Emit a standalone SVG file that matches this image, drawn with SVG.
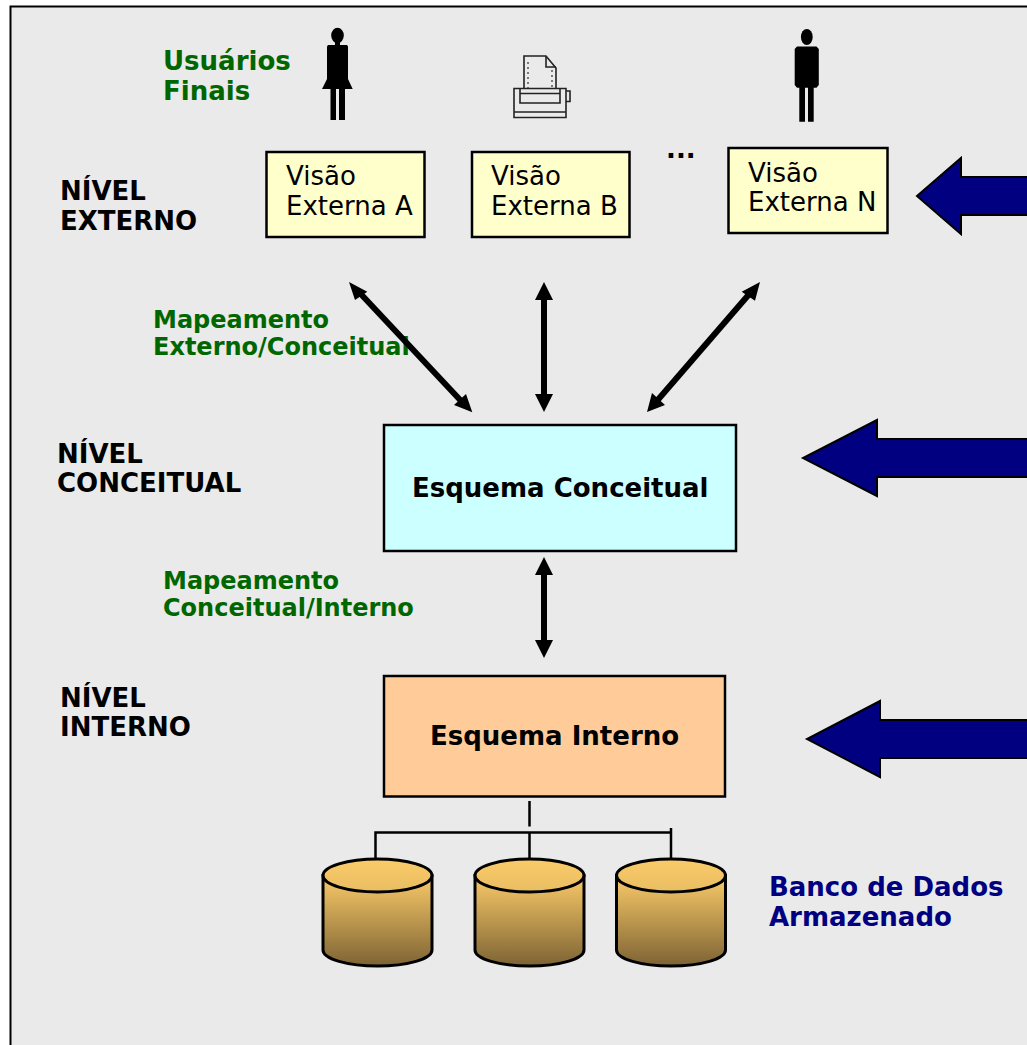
<svg xmlns="http://www.w3.org/2000/svg" width="1027" height="1045" viewBox="0 0 1027 1045">
<style>
text{font-family:"DejaVu Sans",sans-serif}
.b{font-weight:bold;fill:#000;font-size:26px}
.g{font-weight:bold;fill:#006600;font-size:24px}
.g2{font-weight:bold;fill:#006600;font-size:26px}
.n{font-weight:bold;fill:#000080;font-size:26px}
.v{fill:#000;font-size:26px}
.t{font-weight:bold;fill:#000;font-size:26px}
.box{stroke:#000;stroke-width:2.500}
.vb{fill:#ffffcc}
.lk{stroke:#000;stroke-width:6;fill:none}
.fl{fill:#000080;stroke:#000;stroke-width:2}
.cyl{fill:url(#cg);stroke:#000;stroke-width:3}
.top{fill:url(#ct);stroke:#000;stroke-width:3}
.w{stroke:#000;stroke-width:2.500;fill:none}
.pr{stroke:#222;stroke-width:1.600;fill:none}
.dot{stroke:#555;stroke-width:1.500;stroke-dasharray:2 3;fill:none}
</style>
<defs>
<linearGradient id="cg" x1="0" y1="0" x2="0" y2="1"><stop offset="0" stop-color="#fbcb69"/><stop offset="1" stop-color="#7d6334"/></linearGradient>
<linearGradient id="ct" x1="0" y1="0" x2="0" y2="1"><stop offset="0" stop-color="#fbcb69"/><stop offset="1" stop-color="#e8bd62"/></linearGradient>
<g id="cy">
<path class="cyl" d="M-54.500 16.500V91C-54.500 100 -30 107 0 107S54.500 100 54.500 91V16.500Z"/>
<ellipse class="top" cx="0" cy="16.500" rx="54.500" ry="16.500"/>
</g>
</defs>
<rect id="frame" x="10.500" y="6.500" width="1030" height="1050" fill="#eaeaea" stroke="#000" stroke-width="2"/>

<g id="labels">
<text class="g2" x="163" y="70">Usuários</text><text class="g2" x="163" y="100">Finais</text>
<text class="b" x="60" y="200">NÍVEL</text><text class="b" x="60" y="230">EXTERNO</text>
<text class="b" x="57" y="463">NÍVEL</text><text class="b" x="57" y="492">CONCEITUAL</text>
<text class="b" x="60" y="707">NÍVEL</text><text class="b" x="60" y="736">INTERNO</text>
<text class="g" x="153" y="328">Mapeamento</text><text class="g" x="153" y="355">Externo/Conceitual</text>
<text class="g" x="163" y="589">Mapeamento</text><text class="g" x="163" y="616">Conceitual/Interno</text>
<text class="n" x="769" y="896">Banco de Dados</text><text class="n" x="769" y="926">Armazenado</text>
<text class="b" x="666" y="158">...</text>
</g>

<g id="user-a" fill="#000">
<ellipse cx="337.500" cy="35.500" rx="6.300" ry="7.800"/>
<path d="M335 42H340V45H347L348 46.500V79L352.700 89H345V120H339V89H336V120H330.500V89H322L327 79V46.500L328 45H335Z"/>
</g>
<g id="printer">
<path class="pr" d="M524 88V56H546L556 68V88"/><path class="pr" d="M546 56V67H556"/>
<path class="dot" d="M528 62V88M552 70V88"/>
<path class="pr" d="M514 88.500H566V117.500H514Z"/><path class="pr" d="M520 88.500V103H560V88.500M520 93.500H560M514 112H566M566 91H570V101.500H566"/>
</g>
<g id="user-n" fill="#000">
<ellipse cx="806.800" cy="37" rx="5.900" ry="8"/>
<path d="M797 46.500H816.500L818.800 49V85L816.500 87.800H813.700V121.700H808V87.800H805V121.700H799.300V87.800H797L794.700 85V49Z"/>
</g>

<g id="visao-a"><rect class="box vb" x="266.500" y="152" width="158" height="85"/><text class="v" x="286" y="185">Visão</text><text class="v" x="286" y="215">Externa A</text></g>
<g id="visao-b"><rect class="box vb" x="472" y="152" width="157.500" height="85"/><text class="v" x="491" y="185">Visão</text><text class="v" x="491" y="215">Externa B</text></g>
<g id="visao-n"><rect class="box vb" x="728.500" y="148" width="159" height="85"/><text class="v" x="748" y="182">Visão</text><text class="v" x="748" y="211">Externa N</text></g>

<g id="conceitual"><rect class="box" fill="#ccffff" x="384" y="425" width="352" height="126"/><text class="t" x="412" y="497">Esquema Conceitual</text></g>
<g id="interno"><rect class="box" fill="#ffcc99" x="384" y="676" width="341" height="120.500"/><text class="t" x="430" y="745">Esquema Interno</text></g>

<g id="connectors">
<line class="lk" x1="358" y1="291" x2="463" y2="403"/>
<line class="lk" x1="544" y1="298" x2="544" y2="396"/>
<line class="lk" x1="751" y1="292" x2="656" y2="402"/>
<line class="lk" x1="544" y1="573" x2="544" y2="642"/>
<path d="M349 282L367.300 291.700L355 300ZM472.300 412.300L454 405L466 394Z" fill="#000"/>
<path d="M544 282L553 300H535ZM544 412L553 394H535Z" fill="#000"/>
<path d="M760 282L741.700 291.700L755 300.700ZM647 412L665 405L652 393Z" fill="#000"/>
<path d="M544 557L553 575H535ZM544 658L553 640H535Z" fill="#000"/>
<path class="w" d="M529.500 801V826.500M375.500 859V832.500H671M529.500 832.500V859M671 828V859"/>
</g>

<g id="flechas">
<path class="fl" d="M1030 177H961V158L917 196L961 234V215H1030Z"/>
<path class="fl" d="M1030 439H877V420L803 458L877 496V477H1030Z"/>
<path class="fl" d="M1030 720H880V701L807 739L880 777V758H1030Z"/>
</g>

<g id="db1"><use href="#cy" x="377.500" y="859"/></g>
<g id="db2"><use href="#cy" x="529.500" y="859"/></g>
<g id="db3"><use href="#cy" x="671" y="859"/></g>
</svg>
